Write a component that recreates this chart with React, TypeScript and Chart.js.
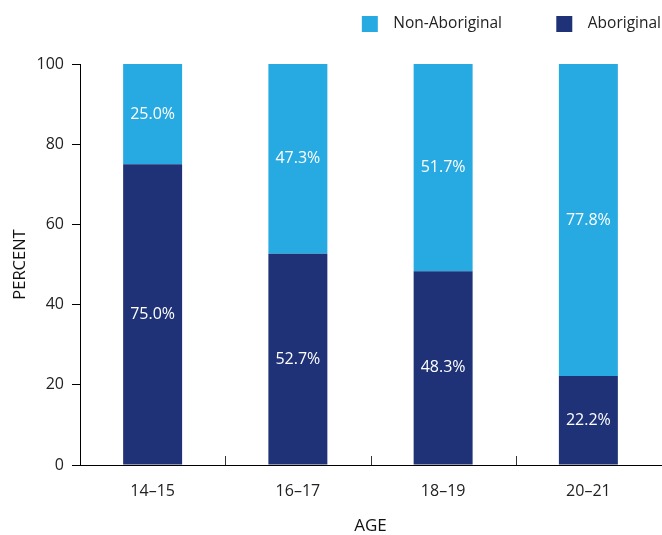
import React, { useEffect, useRef } from "react";
import { Chart, registerables } from "chart.js";

Chart.register(...registerables);

const categories = ["14–15", "16–17", "18–19", "20–21"];
const aboriginal = [75.0, 52.7, 48.3, 22.2];
const nonAboriginal = [25.0, 47.3, 51.7, 77.8];
const yTicks = [0, 20, 40, 60, 80, 100];

const DARK = "#1F3277";
const LIGHT = "#27AAE1";
const FONT = "'Open Sans', 'Noto Sans', sans-serif";

const valueLabels = {
  id: "valueLabels",
  afterDatasetsDraw(chart: any) {
    const ctx = chart.ctx;
    ctx.save();
    ctx.fillStyle = "#ffffff";
    ctx.font = `16px ${FONT}`;
    ctx.textAlign = "center";
    ctx.textBaseline = "middle";
    chart.data.datasets.forEach((ds: any, di: number) => {
      const meta = chart.getDatasetMeta(di);
      meta.data.forEach((el: any, i: number) => {
        const v = ds.data[i];
        const y = (el.y + el.base) / 2;
        ctx.fillText(v.toFixed(1) + "%", el.x, y);
      });
    });
    ctx.restore();
  },
};

const innerTicks = {
  id: "innerTicks",
  afterDraw(chart: any) {
    const xs = chart.scales.x;
    const ctx = chart.ctx;
    const bottom = chart.chartArea.bottom;
    ctx.save();
    ctx.strokeStyle = "#333";
    ctx.lineWidth = 1;
    for (let i = 1; i < categories.length; i++) {
      const x = Math.round((xs.getPixelForValue(i - 1) + xs.getPixelForValue(i)) / 2) + 0.5;
      ctx.beginPath();
      ctx.moveTo(x, bottom);
      ctx.lineTo(x, bottom - 9);
      ctx.stroke();
    }
    ctx.restore();
  },
};

const legendHeight = {
  id: "legendHeight",
  beforeLayout(chart: any) {
    const lg = chart.legend;
    if (lg && !lg.__patched) {
      const f = lg.fit;
      lg.fit = function () {
        f.call(this);
        this.height = 48;
      };
      lg.__patched = true;
    }
  },
};

export default function App() {
  const ref = useRef<HTMLCanvasElement | null>(null);
  useEffect(() => {
    if (!ref.current) return;
    const chart = new Chart(ref.current, {
      type: "bar",
      data: {
        labels: categories,
        datasets: [
          { label: "Aboriginal", data: aboriginal, backgroundColor: DARK, borderWidth: 0 },
          { label: "Non-Aboriginal", data: nonAboriginal, backgroundColor: LIGHT, borderWidth: 0 },
        ],
      },
      options: {
        animation: false,
        responsive: true,
        maintainAspectRatio: false,
        layout: { padding: { top: 16, left: 0, right: 1, bottom: 0 } },
        datasets: { bar: { categoryPercentage: 1, barPercentage: 0.406 } },
        plugins: {
          tooltip: { enabled: false },
          legend: {
            display: true,
            position: "top",
            align: "end",
            reverse: true,
            labels: {
              boxWidth: 16,
              boxHeight: 16,
              padding: 0,
              color: "#222",
              font: { family: FONT, size: 15.5 },
              generateLabels(chart: any) {
                const items = Chart.defaults.plugins.legend.labels.generateLabels(chart);
                return items.map((it: any) => {
                  const t = "\u2002" + it.text + (it.text === "Non-Aboriginal" ? "\u2003\u2003\u2003\u2002" : "");
                  return { ...it, text: t, lineWidth: 0 };
                });
              },
            },
          },
        },
        scales: {
          x: {
            stacked: true,
            grid: { display: false, drawTicks: false },
            border: { display: true, color: "#000", width: 1 },
            ticks: { color: "#222", font: { family: FONT, size: 16 }, padding: 17 },
            title: {
              display: true,
              text: "AGE",
              color: "#111",
              font: { family: FONT, size: 17 },
              padding: { top: 0, bottom: -1 },
            },
            afterFit(scale: any) {
              scale.height = 70;
            },
          },
          y: {
            stacked: true,
            min: 0,
            max: 100,
            afterBuildTicks(scale: any) {
              scale.ticks = yTicks.map((v) => ({ value: v }));
            },
            grid: { display: true, drawOnChartArea: false, drawTicks: true, tickLength: 8, color: "#000" },
            border: { display: true, color: "#000", width: 1 },
            ticks: { color: "#222", font: { family: FONT, size: 16 }, padding: 8 },
            title: {
              display: true,
              text: "PERCENT",
              color: "#111",
              font: { family: FONT, size: 16.5 },
              padding: { top: 10, bottom: 0 },
            },
            afterFit(scale: any) {
              scale.width = 80;
            },
          },
        },
      },
      plugins: [valueLabels, innerTicks, legendHeight],
    });
    return () => chart.destroy();
  }, []);
  return (
    <div style={{ position: "absolute", left: 0, top: 0, width: 662, height: 535, background: "#fff" }}>
      <canvas ref={ref} />
    </div>
  );
}
